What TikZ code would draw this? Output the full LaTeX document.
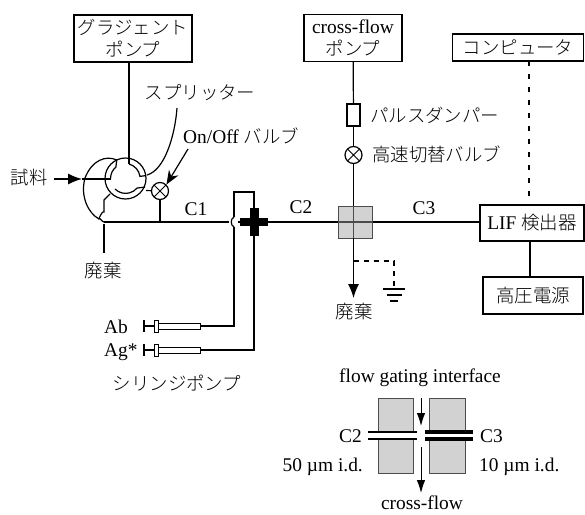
\documentclass[tikz,border=0pt]{standalone}
\usepackage{fontspec}
\setmainfont{Liberation Serif}
\newfontfamily\jp[Scale=0.95]{Noto Sans CJK JP Light}
\usetikzlibrary{arrows.meta}
\tikzset{
  pipe/.style={line width=1.2pt},
  box/.style={draw,line width=1.4pt,align=center,inner sep=0pt,font=\fontsize{19.4}{21}\selectfont},
  lab/.style={inner sep=0pt,font=\fontsize{19.4}{21}\selectfont},
  valve/.style={circle,draw,line width=1.2pt,fill=white,minimum size=17pt,inner sep=0pt,
    path picture={\draw[line width=1pt] (path picture bounding box.north west) -- (path picture bounding box.south east)
      (path picture bounding box.north east) -- (path picture bounding box.south west);}},
  block/.style={draw=black!70,line width=1pt,fill=gray!35,inner sep=0pt},
  tee/.style={fill=black,inner sep=0pt},
  bigtip/.style={-{Latex[length=14pt,width=11pt]}},
  smalltip/.style={-{Latex[length=13pt,width=8.5pt]}}
}
\begin{document}
\begin{tikzpicture}[x=1pt,y=-1pt]
\useasboundingbox (0,0) rectangle (585,514);
\fill[white] (0,0) rectangle (585,514);

% Boxes (top and right)
\node[box,minimum width=118pt,minimum height=47pt] (grad) at (133,38.5) {{\jp グラジェント}\\[1pt]{\jp ポンプ}};
\node[box,minimum width=98pt,minimum height=47pt] (cross) at (353,38) {cross-flow\\[1pt]{\jp ポンプ}};
\node[box,minimum width=131pt,minimum height=27pt] (pc) at (518,47.5) {\jp コンピュータ};
\node[box,minimum width=104pt,minimum height=36pt] (lif) at (532,223) {LIF {\jp 検出器}};
\node[box,minimum width=100pt,minimum height=37pt] (hv) at (533,295.5) {\jp 高圧電源};

% Splitter
\coordinate (split) at (125.5,178.5);
\coordinate (gradin) at (129,62);
\coordinate (slotR) at (129,164);
\draw[pipe] (split) circle (20.5);
\draw[pipe] (gradin) -- (slotR);
\draw[pipe] (slotR) arc[start angle=-75,end angle=-8,radius=15] -- ++(5,-0.7);
\draw[pipe] (116.8,160) -- (115.9,167) arc[start angle=-130,end angle=-180,radius=15];
\draw[pipe] (115,189) arc[start angle=135,end angle=40,radius=15] -- ++(8,-1);

% Valve and main line
\node[valve] (onoff) at (160,191) {};
\coordinate (waste) at (104,222);
\coordinate (bumpR) at (234,217);
\coordinate (bumpL) at (234,227);
\node[tee,minimum width=28pt,minimum height=8pt] (teeH) at (254,222) {};
\node[tee,minimum width=9pt,minimum height=28pt] (teeV) at (254,222) {};
\node[block,minimum width=34pt,minimum height=32pt] (iface) at (355,222) {};
\coordinate (lifin) at (480,222);
\draw[pipe] (waste) -- (229,222);
\draw[pipe] (bumpR) to[out=200,in=160] (bumpL);
\draw[pipe] (238,222) -- (teeH.west);
\draw[pipe] (teeH.east) -- (iface.west);
\draw[pipe] (iface.east) -- (lifin);
\draw[pipe] (onoff) -- (160,222);
\draw[pipe] (146,190.5) -- (onoff);
\draw[pipe,gray!60!black] (iface.west) -- (iface.east);
\draw[pipe,gray!60!black] (353.5,206) -- (353.5,238);

% Sample loop and waste
\node[lab] (sample) at (29,178) {\jp 試料};
\coordinate (samplein) at (82,179);
\draw[bigtip,pipe] (54,179) -- (samplein);
\draw[pipe] (samplein) -- (110.5,179);
\draw[pipe] (116.8,160) .. controls (106,155) and (92,160) .. (85,178) .. controls (80,196) and (88,213) .. (99,219);
\draw[pipe] (110,194) -- (104,200) -- (104,212) to[out=110,in=-120] (99,219) to[out=60,in=180] (waste);
\draw[pipe] (104,224) -- (104,253);
\node[lab] (wasteA) at (103,271) {\jp 廃棄};

% Labels of the splitter and valve
\node[lab] (splitlab) at (200,93) {\jp スプリッター};
\node[lab,anchor=west] (onofflab) at (183,136) {On/Off {\jp バルブ}};
\draw[pipe] (177,108) .. controls (175,135) and (165,170) .. (147,175);
\draw[pipe,-{Stealth[length=14pt,width=11pt]}] (188,149) -- (onoff.north east);

% Capillary labels
\node[lab] (c1) at (196,209) {C1};
\node[lab] (c2) at (301,207) {C2};
\node[lab] (c3) at (424,208) {C3};

% Syringes
\coordinate (topA) at (234,192);
\coordinate (AbEnd) at (234,326);
\coordinate (AgEnd) at (254,350);
\foreach \name/\ypos in {Ab/326,Ag/350}{
  \draw[line width=2pt] (144,\ypos-6) -- (144,\ypos+6);
  \draw[line width=2pt] (144,\ypos) -- (154,\ypos);
  \draw[line width=1pt,fill=white] (154,\ypos-6) rectangle (158,\ypos+6);
  \draw[line width=1pt,fill=white] (158,\ypos-3) rectangle (200,\ypos+3);
}
\draw[pipe] (teeV.north) -- (254,192) -- (topA) -- (bumpR);
\draw[pipe] (bumpL) -- (AbEnd) -- (200,326);
\draw[pipe] (teeV.south) -- (AgEnd) -- (200,350);
\node[lab,anchor=west] (ab) at (104,327) {Ab};
\node[lab,anchor=west] (ag) at (104,352) {Ag*};
\node[lab] (syr) at (177,383) {\jp シリンジポンプ};

% Cross-flow line
\node[draw,line width=1.2pt,fill=white,minimum width=13pt,minimum height=22pt,inner sep=0pt] (damper) at (353.5,115) {};
\node[valve] (fast) at (353.5,155) {};
\node[lab,anchor=west] (damperlab) at (370,115) {\jp パルスダンパー};
\node[lab,anchor=west] (fastlab) at (372,154) {\jp 高速切替バルブ};
\draw[pipe] (cross) -- (damper);
\draw[pipe] (damper) -- (fast);
\draw[pipe] (fast) -- (353.5,206);
\draw[pipe,bigtip] (353.5,238) -- (353.5,298);
\node[lab] (wasteB) at (354,312) {\jp 廃棄};

% Ground
\coordinate (gnd) at (394,289);
\draw[pipe,dash pattern=on 5pt off 5pt] (353.5,261) -- (394,261) -- (gnd);
\draw[pipe] (383,289) -- (405,289);
\draw[pipe] (387,295) -- (402,295);
\draw[pipe] (390,301) -- (398,301);

% Detector links
\coordinate (pclink) at (529,61);
\coordinate (lifTop) at (529,200);
\coordinate (lifBot) at (530,241);
\coordinate (hvTop) at (530,277);
\draw[line width=1.5pt,dash pattern=on 5pt off 8pt] (pclink) -- (lifTop);
\draw[pipe] (lifBot) -- (hvTop);

% Flow gating interface
\node[lab] (fgi) at (420,378) {flow gating interface};
\node[block,minimum width=35pt,minimum height=75pt] (blockL) at (395.5,435.5) {};
\node[block,minimum width=36pt,minimum height=75pt] (blockR) at (447,435.5) {};
\fill[white] (368,432) rectangle (417,439);
\fill[white] (425,432) rectangle (473,439);
\draw[line width=1.8pt] (368,432) -- (417,432);
\draw[line width=1.8pt] (368,439) -- (417,439);
\draw[line width=4pt] (425,432) -- (473,432);
\draw[line width=4pt] (425,439) -- (473,439);
\draw[line width=1pt,smalltip] (421,398) -- (421,426);
\draw[line width=1pt,smalltip] (421,447) -- (421,493);
\node[lab,anchor=east] (c2b) at (362,436) {C2};
\node[lab,anchor=west] (c3b) at (480,436) {C3};
\node[lab,anchor=east] (id50) at (363,467) {50 µm i.d.};
\node[lab,anchor=west] (id10) at (479,467) {10 µm i.d.};
\node[lab] (crosslab) at (422,503) {cross-flow};
\end{tikzpicture}
\end{document}
